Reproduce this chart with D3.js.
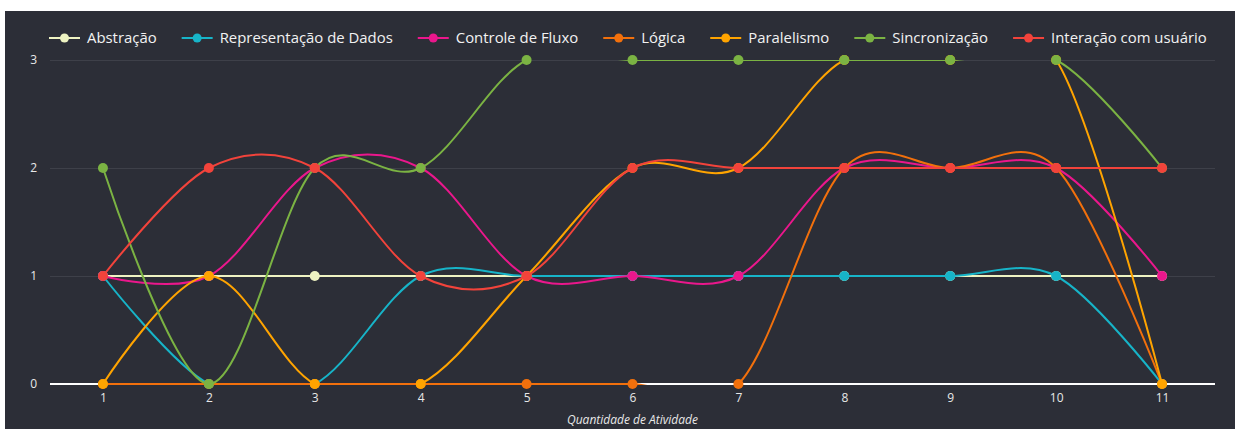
<!DOCTYPE html>
<html>
<head>
<meta charset="utf-8">
<script src="https://cdn.jsdelivr.net/npm/d3@7/dist/d3.min.js"></script>
<style>
  body { margin: 0; background: #fff; }
  svg text { font-family: "Open Sans", sans-serif; }
</style>
</head>
<body>
<div id="chart-container"></div>
<script>
// categories (x) and one array per series
var atividades = [1, 2, 3, 4, 5, 6, 7, 8, 9, 10, 11];
var abstracao       = [1, 1, 1, 1, 1, 1, 1, 1, 1, 1, 1];
var representacao   = [1, 0, 0, 1, 1, 1, 1, 1, 1, 1, 0];
var controleFluxo   = [1, 1, 2, 2, 1, 1, 1, 2, 2, 2, 1];
var logica          = [0, 0, 0, 0, 0, 0, 0, 2, 2, 2, 0];
var paralelismo     = [0, 1, 0, 0, 1, 2, 2, 3, 3, 3, 0];
var sincronizacao   = [2, 0, 2, 2, 3, 3, 3, 3, 3, 3, 2];
var interacao       = [1, 2, 2, 1, 1, 2, 2, 2, 2, 2, 2];

var seriesNames = ["Abstração", "Representação de Dados", "Controle de Fluxo", "Lógica",
                   "Paralelismo", "Sincronização", "Interação com usuário"];
var seriesValues = [abstracao, representacao, controleFluxo, logica, paralelismo, sincronizacao, interacao];
var yTicks = [0, 1, 2, 3];
var xTitle = "Quantidade de Atividade";

var colors = ["#eef3c2", "#17b4c8", "#ea178c", "#f2700c", "#ffa400", "#7bb343", "#f2433b"];

//
// setup
//
var totalWidth = 1235, totalHeight = 429;
var margin = {top: 60, right: 20, bottom: 45, left: 50},
    width = 1165,
    height = 324;

var svg = d3.select("#chart-container")
    .append("svg")
    .attr("width", totalWidth)
    .attr("height", totalHeight);

// dark panel
svg.append("rect")
  .attr("x", 5).attr("y", 11)
  .attr("width", totalWidth - 5).attr("height", totalHeight - 11)
  .attr("fill", "#2c2e37");

var g = svg.append("g")
    .attr("transform", "translate(" + margin.left + "," + margin.top + ")");

var x = d3.scalePoint()
    .domain(atividades)
    .range([0, width])
    .padding(0.5);

var y = d3.scaleLinear()
    .domain([0, 3])
    .range([height, 0]);

// grid lines
var grid = g.append("g")
    .attr("class", "grid")
    .call(d3.axisLeft(y).tickValues(yTicks).tickSize(-width).tickFormat(""));
grid.select(".domain").remove();
grid.selectAll("line").attr("stroke", "#3e4049").attr("stroke-width", 1);

// y axis labels
var yAxis = g.append("g")
    .call(d3.axisLeft(y).tickValues(yTicks).tickSize(0).tickPadding(13).tickFormat(d3.format("d")));
yAxis.select(".domain").remove();
yAxis.selectAll("text").attr("fill", "#e8e8e8").style("font-size", "12px");

// zero line
g.append("line")
  .attr("x1", 0).attr("x2", width)
  .attr("y1", y(0)).attr("y2", y(0))
  .attr("stroke", "#ffffff").attr("stroke-width", 2);

// x axis labels
var xAxis = g.append("g")
    .attr("transform", "translate(0," + height + ")")
    .call(d3.axisBottom(x).tickSize(0).tickPadding(9));
xAxis.select(".domain").remove();
xAxis.selectAll("text").attr("fill", "#e8e8e8").style("font-size", "12px");

g.append("text")
  .attr("x", width / 2)
  .attr("y", height + 40)
  .attr("text-anchor", "middle")
  .attr("fill", "#e8e8e8")
  .style("font-size", "12px")
  .style("font-style", "italic")
  .text(xTitle);

// clip for lines (lines overshooting the range get cut off)
svg.append("defs").append("clipPath")
  .attr("id", "plot-clip")
  .append("rect")
  .attr("x", 0).attr("y", 0)
  .attr("width", width).attr("height", height + 1);

//
// draw the lines and markers
//
var line = d3.line()
    .x(function(d, i) { return x(atividades[i]); })
    .y(function(d) { return y(d); })
    .curve(d3.curveCardinal.tension(0));

seriesValues.forEach(function(vals, k) {
  var trace = g.append("g").attr("class", "trace");
  trace.append("path")
    .datum(vals)
    .attr("clip-path", "url(#plot-clip)")
    .attr("fill", "none")
    .attr("stroke", colors[k])
    .attr("stroke-width", 2)
    .attr("d", line);
  trace.selectAll("circle")
    .data(vals)
    .enter().append("circle")
    .attr("cx", function(d, i) { return x(atividades[i]); })
    .attr("cy", function(d) { return y(d); })
    .attr("r", 5)
    .attr("fill", colors[k]);
});

//
// legend
//
var legend = svg.append("g").attr("class", "legend");
var lx = 49, ly = 38;
seriesNames.forEach(function(name, k) {
  var item = legend.append("g").attr("transform", "translate(" + lx + "," + ly + ")");
  item.append("line")
    .attr("x1", 0).attr("x2", 31)
    .attr("y1", 0).attr("y2", 0)
    .attr("stroke", colors[k]).attr("stroke-width", 2);
  item.append("circle")
    .attr("cx", 15.5).attr("cy", 0).attr("r", 4.5)
    .attr("fill", colors[k]);
  var t = item.append("text")
    .attr("x", 38)
    .attr("dy", "0.35em")
    .attr("fill", "#f2f2f2")
    .style("font-size", "14.9px")
    .text(name);
  lx += 38 + t.node().getComputedTextLength() + 25;
});
</script>
</body>
</html>
